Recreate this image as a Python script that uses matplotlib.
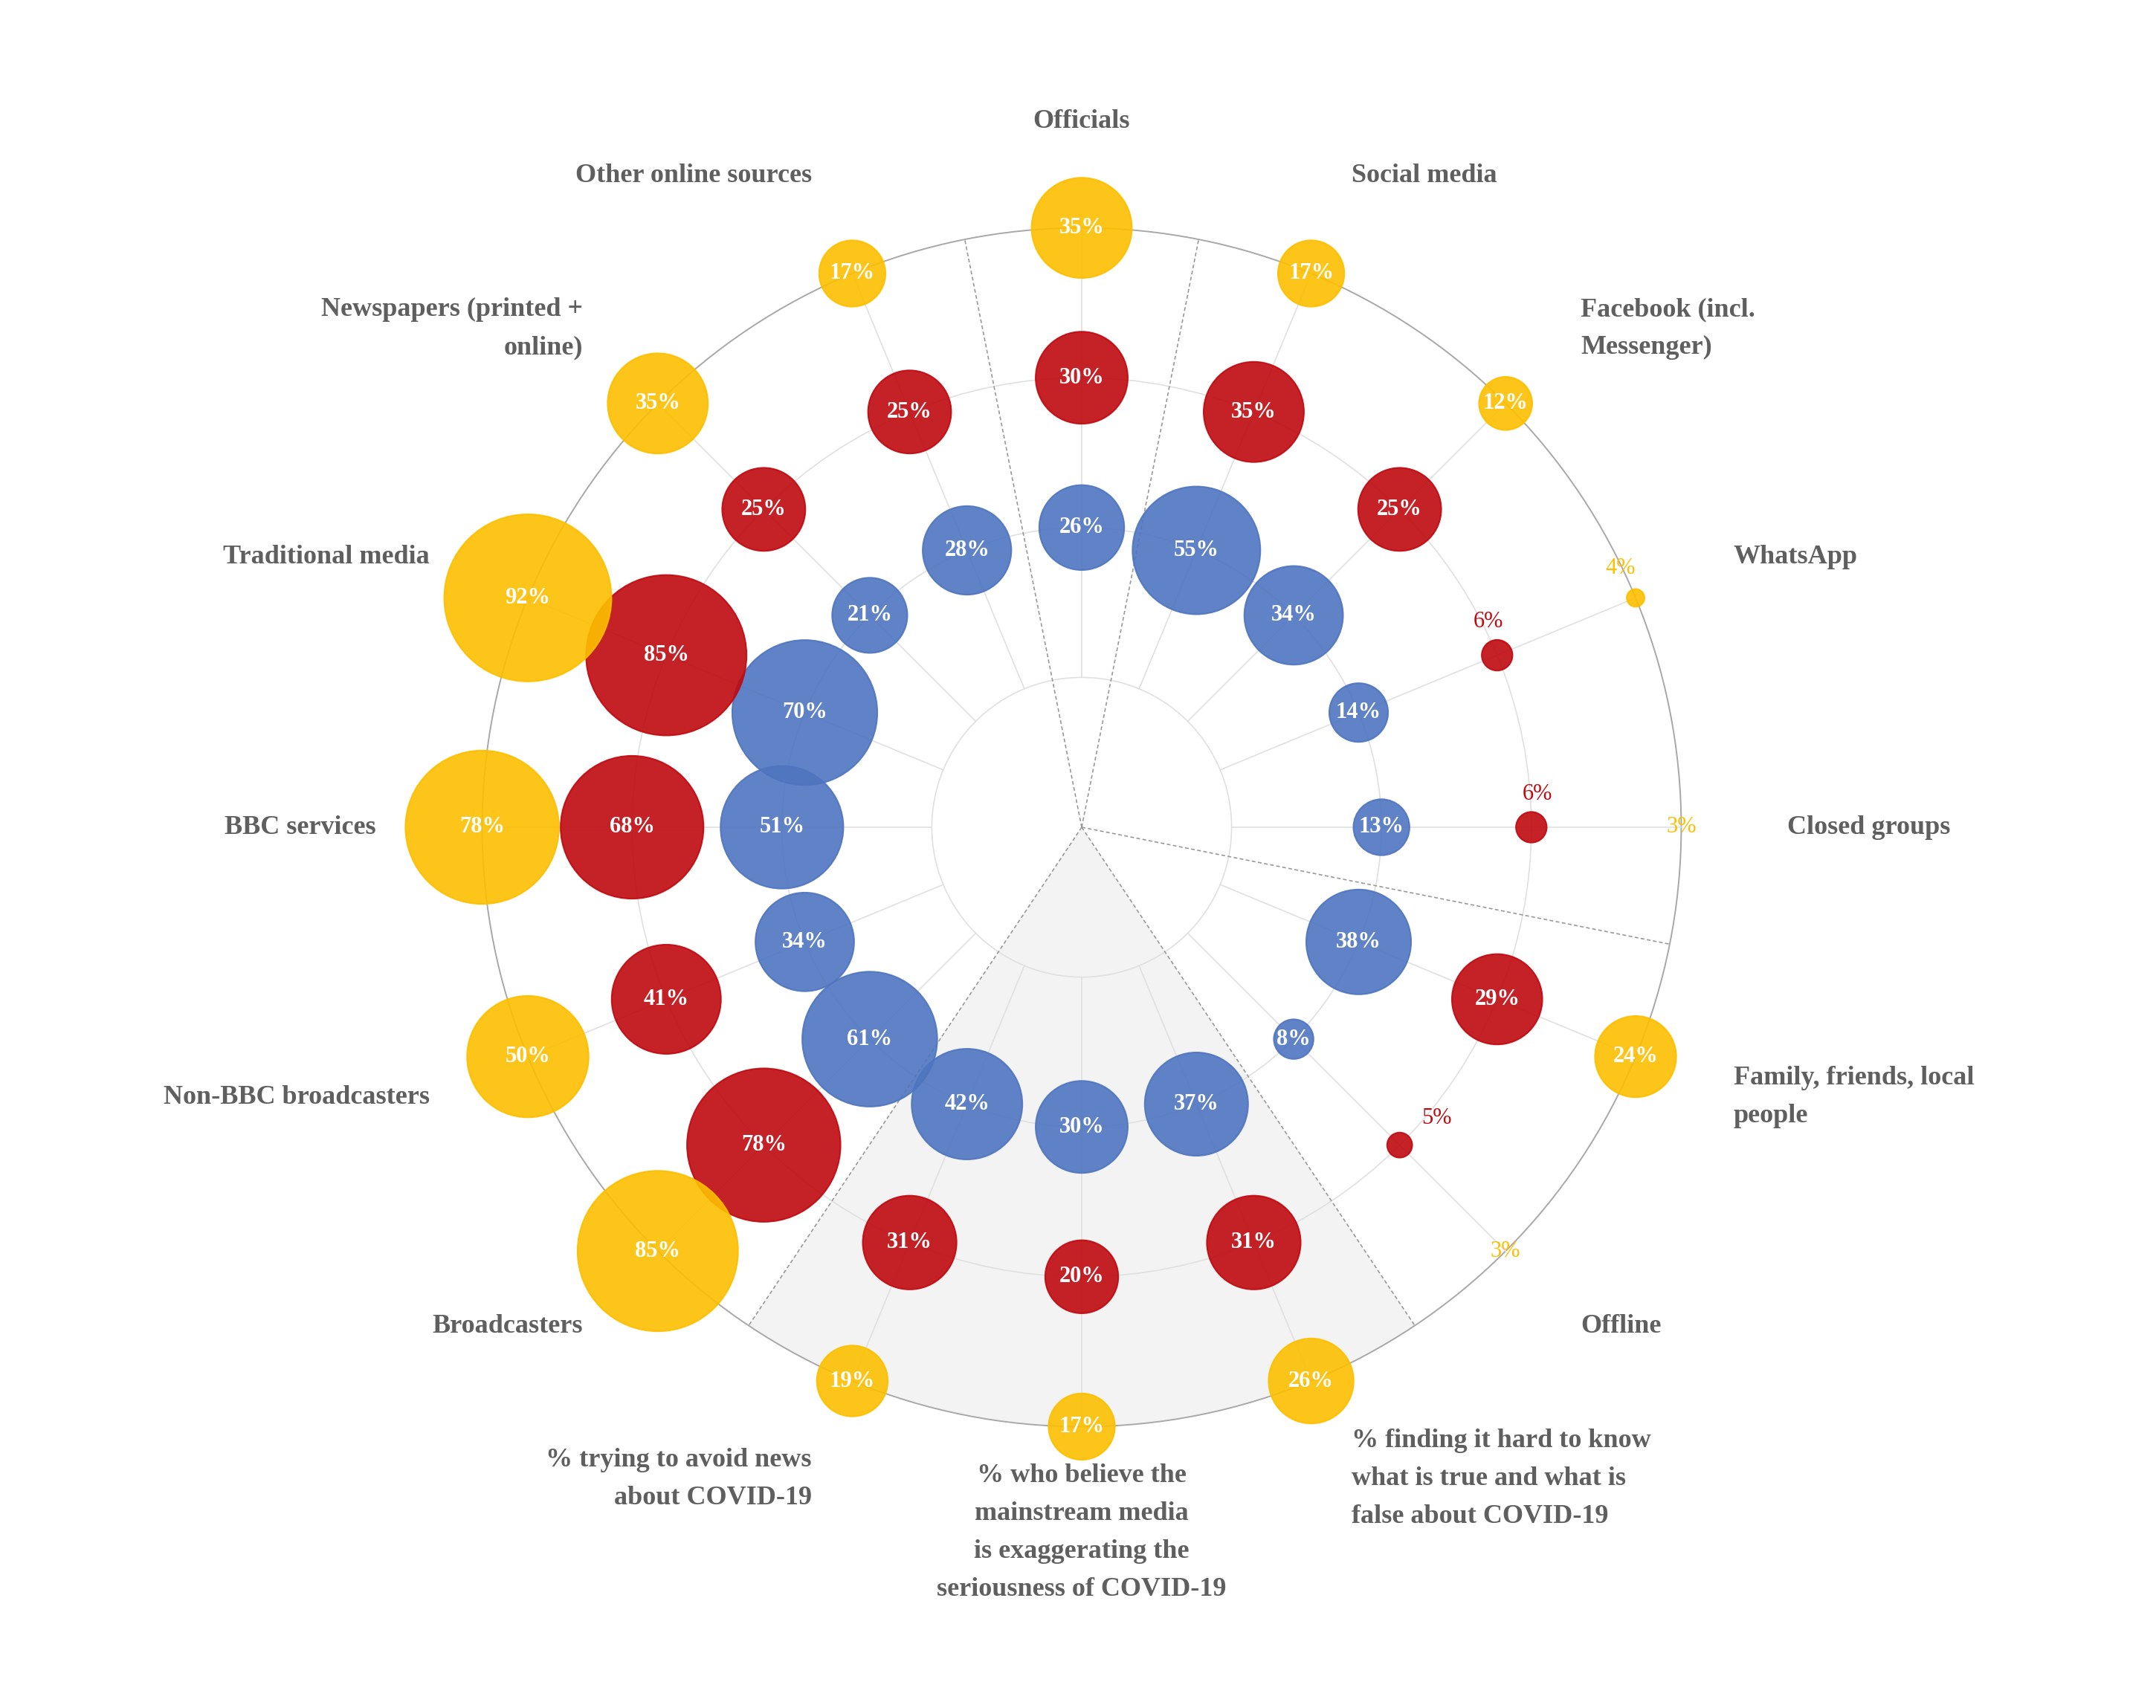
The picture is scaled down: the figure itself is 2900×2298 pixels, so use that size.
"""Radial bubble chart: news sources, three survey groups on three rings."""

import numpy as np
import matplotlib.pyplot as plt
from matplotlib.patches import Circle, Wedge

# categories clockwise, starting at the top
categories = [
    'Officials', 'Social media', 'Facebook (incl.\nMessenger)', 'WhatsApp',
    'Closed groups', 'Family, friends, local\npeople', 'Offline',
    '% finding it hard to know\nwhat is true and what is\nfalse about COVID-19',
    '% who believe the\nmainstream media\nis exaggerating the\nseriousness of COVID-19',
    '% trying to avoid news\nabout COVID-19', 'Broadcasters',
    'Non-BBC broadcasters', 'BBC services', 'Traditional media',
    'Newspapers (printed +\nonline)', 'Other online sources',
]
blue = [26, 55, 34, 14, 13, 38, 8, 37, 30, 42, 61, 34, 51, 70, 21, 28]
red = [30, 35, 25, 6, 6, 29, 5, 31, 20, 31, 78, 41, 68, 85, 25, 25]
yellow = [35, 17, 12, 4, 3, 24, 3, 26, 17, 19, 85, 50, 78, 92, 35, 17]

BLUE = '#4f75c0'
RED = '#bf0a10'
YELLOW = '#fdbf00'
GREY_TXT = '#5f5f5f'
SERIF = 'Liberation Serif'

W, H = 2900, 2298
cx, cy = 1455, H - 1113
unit = 201.6

# offsets (px) for labels of the tiny bubbles, placed outside
small_offsets = {
    (3, 'red'): (-12, 45), (3, 'yellow'): (-20, 40),
    (4, 'red'): (8, 45), (4, 'yellow'): (0, 0),
    (6, 'red'): (50, 36), (6, 'yellow'): (0, 0),
}


def bubble_radius(v):
  """Area grows with the value; 3% is the zero of the scale."""
  return np.sqrt(142.0 * max(v - 3, 0))


def polar(r, ang):
  a = np.radians(ang)
  return cx + r * np.cos(a), cy + r * np.sin(a)


fig = plt.figure(figsize=(W / 100, H / 100), dpi=100)
ax = fig.add_axes([0, 0, 1, 1])
ax.set_xlim(0, W)
ax.set_ylim(0, H)
ax.set_aspect('equal')
ax.axis('off')

n = len(categories)
angles = [90 - 360 / n * i for i in range(n)]
step = 360 / n

# shaded sector for the three survey questions
ax.add_patch(Wedge((cx, cy), 4 * unit, -90 - 1.5 * step, -90 + 1.5 * step,
                   facecolor='#f3f3f3', edgecolor='none', zorder=0))

# rings
for k in range(1, 4):
  ax.add_patch(Circle((cx, cy), k * unit, fill=False, ec='#e0e0e0', lw=1.2, zorder=1))
ax.add_patch(Circle((cx, cy), 4 * unit, fill=False, ec='#a8a8a8', lw=1.4, zorder=1))

# spokes
for ang in angles:
  x0, y0 = polar(unit, ang)
  x1, y1 = polar(4 * unit, ang)
  ax.plot([x0, x1], [y0, y1], color='#e0e0e0', lw=1.2, zorder=1)

# group separators
for ang in [90 + step / 2, 90 - step / 2, -step / 2, -90 - 1.5 * step, -90 + 1.5 * step]:
  x1, y1 = polar(4 * unit, ang)
  ax.plot([cx, x1], [cy, y1], color='#9a9a9a', lw=1.2, ls=(0, (3, 2)), zorder=2)

# bubbles, inner ring first
series = [(blue, BLUE, 2, 'blue'), (red, RED, 3, 'red'), (yellow, YELLOW, 4, 'yellow')]
for z, (vals, col, ring, name) in enumerate(series):
  for i, v in enumerate(vals):
    x, y = polar(ring * unit, angles[i])
    r = bubble_radius(v)
    if r > 0:
      ax.add_patch(Circle((x, y), r, facecolor=col, edgecolor=col, lw=1.5,
                          alpha=0.9, zorder=3 + z))
    if v >= 8:
      ax.text(x, y, f'{v}%', color='white', fontsize=22, fontweight='bold',
              family=SERIF, ha='center', va='center', zorder=10)
    else:
      dx, dy = small_offsets.get((i, name), (0, 0))
      ax.text(x + dx, y + dy, f'{v}%', color=col, fontsize=22,
              family=SERIF, ha='center', va='center', zorder=10)

# category labels
for ang, lab in zip(angles, categories):
  x, y = polar(949, ang)
  c = np.cos(np.radians(ang))
  ha = 'left' if c > 0.01 else ('right' if c < -0.01 else 'center')
  ax.text(x, y, lab, color=GREY_TXT, fontsize=26, fontweight='bold', family=SERIF,
          ha=ha, va='center', multialignment=ha, linespacing=1.72, zorder=10)

plt.savefig('out.png', dpi=100, facecolor='white')
